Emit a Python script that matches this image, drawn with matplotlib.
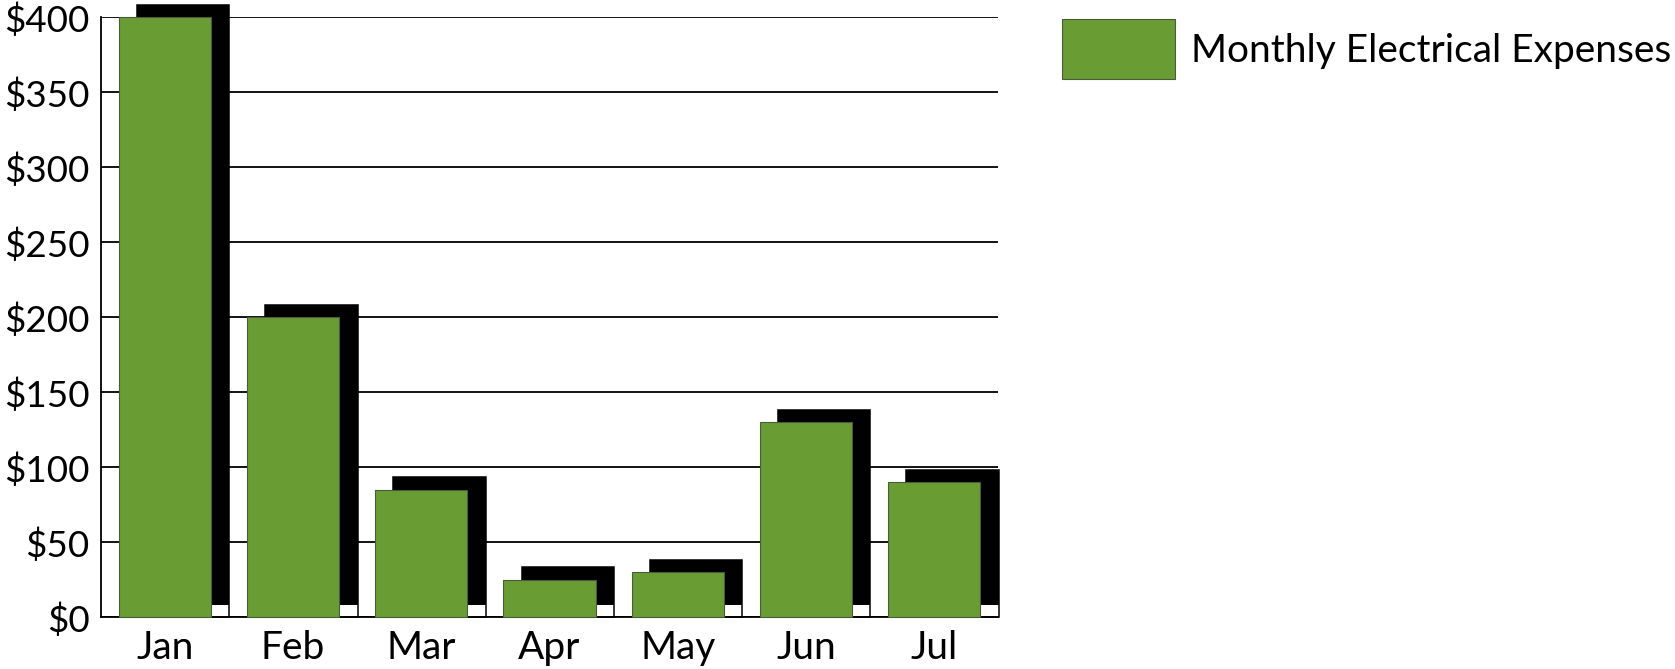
import matplotlib
matplotlib.use("Agg")
from matplotlib import pyplot as plt
from matplotlib.patches import Patch
import numpy as np

months = ["Jan", "Feb", "Mar", "Apr", "May", "Jun", "Jul"]
expenses = [400, 200, 85, 25, 30, 130, 90]
yticks = [0, 50, 100, 150, 200, 250, 300, 350, 400]
ytick_labels = ["$" + str(v) for v in yticks]
series_label = "Monthly Electrical Expenses"

green = "#6a9c34"
bar_width = 0.72
shadow_dx = 0.143
shadow_dy = 8.5
fontsize = 28

plt.rcParams["font.family"] = ["Lato", "DejaVu Sans"]

fig = plt.figure(figsize=(16.75, 6.69), dpi=100)
ax = fig.add_axes([0.0601, 0.0773, 0.5359, 0.8968])

x = np.arange(len(months))
vals = np.array(expenses, dtype=float)

# drop shadow: shifted right and up, with an outlined white gap at the foot
ax.bar(x + shadow_dx, vals + shadow_dy, width=bar_width, color="white",
       edgecolor="black", linewidth=1.1, zorder=2, clip_on=False)
ax.bar(x + shadow_dx, vals, width=bar_width, bottom=shadow_dy, color="black",
       linewidth=0, zorder=2.1, clip_on=False)
ax.bar(x, vals, width=bar_width, color=green, edgecolor="#4a5a3a", linewidth=0.8,
       zorder=3, clip_on=False)

ax.set_xlim(-0.5, 6.5)
ax.set_ylim(0, 400)
ax.set_yticks(yticks)
ax.set_yticklabels(ytick_labels, fontsize=26.5)
ax.set_xticks(x)
ax.set_xticklabels(months, fontsize=fontsize)
ax.tick_params(axis="both", length=0, colors="black")
ax.tick_params(axis="y", pad=8)
ax.tick_params(axis="x", pad=9)

ax.yaxis.grid(True, color="black", linewidth=1.3, zorder=1)
ax.set_axisbelow(True)
for side in ["top", "right"]:
    ax.spines[side].set_visible(False)
for side in ["left", "bottom"]:
    ax.spines[side].set_linewidth(1.3)
    ax.spines[side].set_color("black")

handle = Patch(facecolor=green, edgecolor="#4a5a3a", linewidth=0.8)
fig.legend([handle], [series_label], loc="upper left",
           bbox_to_anchor=(1062 / 1675, 1 - 19.3 / 669), frameon=False,
           fontsize=fontsize, borderpad=0, borderaxespad=0,
           handlelength=113 / 38.9, handleheight=2.0, handletextpad=0.42)

fig.savefig("out.png", dpi=100)
